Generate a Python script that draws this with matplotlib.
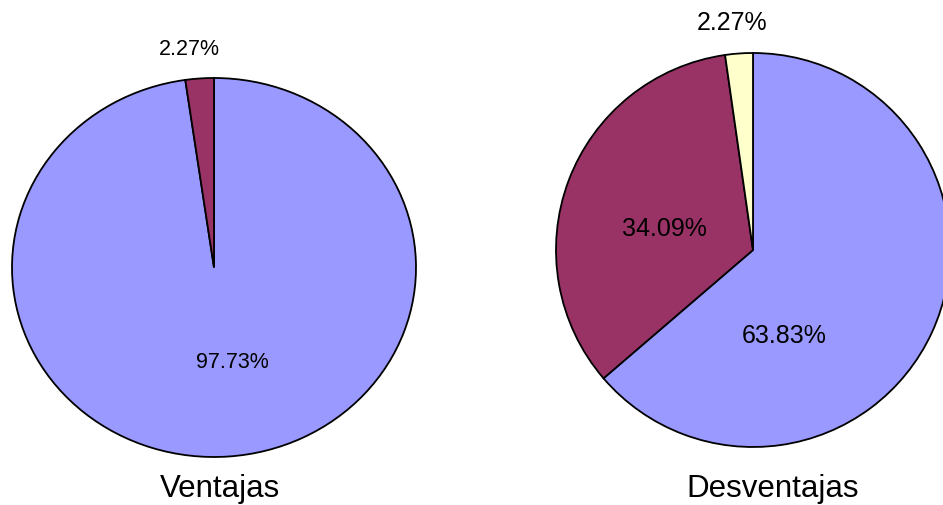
import matplotlib.pyplot as plt

plt.rcParams['font.family'] = ['Liberation Sans', 'DejaVu Sans']

# data
ventajas_values = [97.73, 2.27]
ventajas_labels = ['97.73%', '2.27%']
desventajas_values = [63.83, 34.09, 2.27]
desventajas_labels = ['63.83%', '34.09%', '2.27%']
colors = ['#9999FF', '#993366', '#FFFFCC']

W, H = 943, 505
fig = plt.figure(figsize=(W / 100, H / 100), dpi=100)
fig.patch.set_facecolor('white')


def pie_axes(left, top, width, height):
    # pixel box -> figure fraction
    return fig.add_axes([left / W, (H - top - height) / H, width / W, height / H])


def draw_pie(ax, values):
    ax.pie(values, colors=colors[:len(values)], startangle=90, counterclock=False,
           wedgeprops=dict(edgecolor='black', linewidth=1.3))
    ax.set_aspect('auto')
    ax.set_xlim(-1, 1)
    ax.set_ylim(-1, 1)
    ax.axis('off')


# left pie (slightly elliptical as in the original)
ax1 = pie_axes(12, 78, 404, 379)
draw_pie(ax1, ventajas_values)
ax1.text(0.092, -0.50, ventajas_labels[0], ha='center', va='center', fontsize=15.5)
ax1.text(-0.12, 1.15, ventajas_labels[1], ha='center', va='center', fontsize=15.5)

# right pie (cut by the figure edge)
ax2 = pie_axes(556, 53, 394, 394)
draw_pie(ax2, desventajas_values)
ax2.text(0.157, -0.437, desventajas_labels[0], ha='center', va='center', fontsize=18)
ax2.text(-0.452, 0.107, desventajas_labels[1], ha='center', va='center', fontsize=18)
ax2.text(-0.104, 1.15, desventajas_labels[2], ha='center', va='center', fontsize=18)

fig.text(220 / W, 7.5 / H, 'Ventajas', ha='center', va='baseline', fontsize=22.5)
fig.text(773 / W, 7.5 / H, 'Desventajas', ha='center', va='baseline', fontsize=22.5)

fig.savefig('out.png', dpi=100)
plt.close(fig)
